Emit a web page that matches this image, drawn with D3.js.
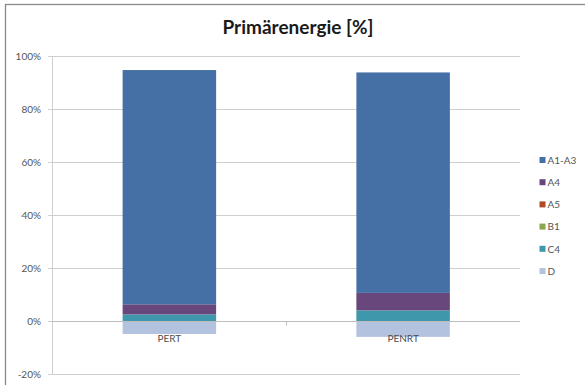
<!DOCTYPE html>
<html><head><meta charset="utf-8">
<script src="https://cdnjs.cloudflare.com/ajax/libs/d3/7.8.5/d3.min.js"></script>
<style>body{margin:0;background:#fff}svg{display:block}</style>
</head><body>
<script>
const categories = ["PERT", "PENRT"];
const seriesNames = ["A1-A3", "A4", "A5", "B1", "C4", "D"];
const seriesColors = ["#4570a6", "#68477c", "#b04a24", "#8aa64e", "#3f97ac", "#b3c3df"];
const valuesA1A3 = [88.4, 83.2];
const valuesA4 = [3.8, 6.6];
const valuesA5 = [0, 0];
const valuesB1 = [0, 0];
const valuesC4 = [2.5, 4.0];
const valuesD = [-4.9, -6.0];
const yTicks = [-20, 0, 20, 40, 60, 80, 100];
const title = "Primärenergie [%]";

const seriesValues = [valuesA1A3, valuesA4, valuesA5, valuesB1, valuesC4, valuesD];
const W = 585, H = 385;
const svg = d3.select("body").append("svg").attr("width", W).attr("height", H);
const font = "Lato, 'Open Sans', sans-serif";

svg.append("rect").attr("x", 5.5).attr("y", 4.5).attr("width", 620).attr("height", 420)
  .attr("fill", "#fff").attr("stroke", "#8a8a8a").attr("stroke-width", 1.3);

svg.append("text").attr("x", 298).attr("y", 34).attr("text-anchor", "middle")
  .attr("font-family", font).attr("font-weight", "bold").attr("font-size", 19)
  .attr("fill", "#1a1a1a").text(title);

const x = d3.scaleBand().domain(categories).range([52.5, 520]).paddingInner(0.6).paddingOuter(0.3);
const y = d3.scaleLinear().domain([-20, 100]).range([374, 56]);

// gridlines
svg.append("g").selectAll("line").data(yTicks).join("line")
  .attr("x1", 48).attr("x2", 520)
  .attr("y1", d => Math.round(y(d)) + 0.5).attr("y2", d => Math.round(y(d)) + 0.5)
  .attr("stroke", "#cfcfcf").attr("stroke-width", 1);

// y axis line
svg.append("line").attr("x1", 52.5).attr("x2", 52.5).attr("y1", y(100)).attr("y2", y(-20))
  .attr("stroke", "#cfcfcf");

// tick labels
svg.append("g").selectAll("text").data(yTicks).join("text")
  .attr("x", 41).attr("y", d => y(d) + 3.5).attr("text-anchor", "end")
  .attr("font-family", font).attr("font-size", 10).attr("fill", "#555")
  .text(d => d + "%");

// stacks (last series stacked at the bottom, as in the source chart)
categories.forEach((c, i) => {
  let pos = 0, neg = 0;
  const segs = [];
  for (let k = seriesNames.length - 1; k >= 0; k--) {
    const v = seriesValues[k][i];
    if (v >= 0) { segs.push({k, y0: pos, y1: pos + v}); pos += v; }
    else { segs.push({k, y0: neg + v, y1: neg}); neg += v; }
  }
  svg.append("g").selectAll("rect").data(segs.filter(s => s.y1 - s.y0 > 0)).join("rect")
    .attr("x", x(c)).attr("width", x.bandwidth())
    .attr("y", s => y(s.y1)).attr("height", s => y(s.y0) - y(s.y1))
    .attr("fill", s => seriesColors[s.k]);
});

// category axis at 0
const y0 = Math.round(y(0)) + 0.5;
svg.append("line").attr("x1", 52.5).attr("x2", 520).attr("y1", y0).attr("y2", y0).attr("stroke", "#bdbdbd");
const midX = Math.round(x(categories[1]) - x.step() * x.paddingInner() / 2) + 0.5;
svg.append("line").attr("x1", midX).attr("x2", midX)
  .attr("y1", y0).attr("y2", y0 + 4).attr("stroke", "#bdbdbd");
svg.append("g").selectAll("text").data(categories).join("text")
  .attr("x", d => x(d) + x.bandwidth()/2).attr("y", y0 + 20.5).attr("text-anchor", "middle")
  .attr("font-family", font).attr("font-size", 10).attr("fill", "#4d4d4d").text(d => d);

// legend
const lg = svg.append("g").selectAll("g").data(seriesNames).join("g")
  .attr("transform", (d, i) => `translate(539.5, ${160 + i * 22.2})`);
lg.append("rect").attr("x", 0).attr("y", -3).attr("width", 6).attr("height", 6)
  .attr("fill", (d, i) => seriesColors[i]);
lg.append("text").attr("x", 8).attr("y", 3.8).attr("font-family", font).attr("font-size", 10)
  .attr("fill", "#555").text(d => d);
</script>
</body></html>
